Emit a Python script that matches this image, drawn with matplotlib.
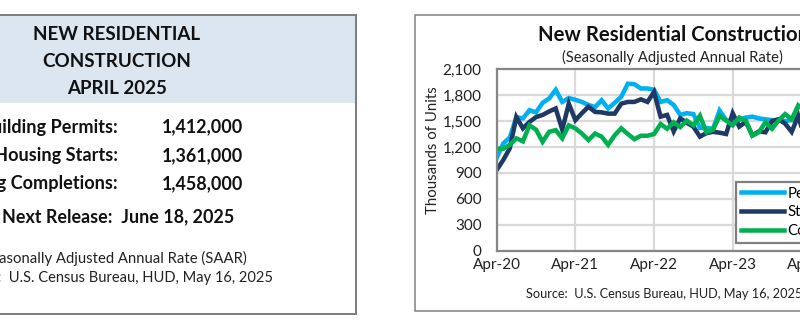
import matplotlib
matplotlib.use("Agg")
import matplotlib.pyplot as plt
from matplotlib.patches import Rectangle

plt.rcParams['font.family'] = ['Lato', 'DejaVu Sans']

# Monthly SAAR, thousands of units, Apr-2020 .. Apr-2025
permits = [1075, 1240, 1310, 1545, 1530, 1625, 1600, 1710, 1760, 1860, 1720, 1765,
           1745, 1720, 1685, 1660, 1740, 1645, 1710, 1780, 1930, 1925, 1875, 1875,
           1860, 1720, 1740, 1685, 1570, 1590, 1580, 1420, 1420, 1410, 1620, 1510,
           1490, 1510, 1540, 1550, 1530, 1520, 1510, 1505, 1500, 1510, 1540, 1490,
           1450, 1400, 1450, 1410, 1470, 1430, 1420, 1490, 1480, 1470, 1460, 1480,
           1412]
starts = [935, 1050, 1185, 1545, 1415, 1490, 1545, 1570, 1610, 1645, 1400, 1700,
          1510, 1590, 1665, 1605, 1600, 1585, 1585, 1700, 1720, 1720, 1750, 1720,
          1835, 1550, 1570, 1380, 1530, 1480, 1435, 1320, 1360, 1375, 1365, 1350,
          1590, 1435, 1490, 1335, 1380, 1370, 1500, 1520, 1470, 1375, 1560, 1300,
          1370, 1320, 1330, 1260, 1380, 1355, 1340, 1290, 1520, 1350, 1490, 1340,
          1361]
completions = [1180, 1180, 1225, 1300, 1265, 1450, 1400, 1260, 1375, 1395, 1300, 1450,
               1415, 1355, 1280, 1355, 1320, 1225, 1335, 1415, 1350, 1290, 1330, 1330,
               1350, 1465, 1410, 1485, 1430, 1505, 1450, 1560, 1370, 1400, 1560, 1505,
               1450, 1540, 1505, 1330, 1370, 1485, 1410, 1505, 1580, 1520, 1680, 1620,
               1620, 1700, 1760, 1690, 1650, 1630, 1570, 1630, 1580, 1650, 1600, 1560,
               1458]

series_names = ["Permits", "Starts", "Completions"]
series_colors = ["#00b0f0", "#1f3864", "#00b050"]
x_tick_labels = ["Apr-20", "Apr-21", "Apr-22", "Apr-23", "Apr-24", "Apr-25"]
y_ticks = list(range(0, 2101, 300))

summary_labels = ["Building Permits:", "Housing Starts:", "Housing Completions:"]
summary_series = [permits, starts, completions]

W, H = 800, 325
fig = plt.figure(figsize=(W / 100, H / 100), dpi=100)


def fx(x):
    return x / W


def fy(y):
    return 1 - y / H


def pt(px):
    return px * 72 / 100


def panel(l, t, r, b, face, edge, lw, z):
    fig.add_artist(Rectangle((fx(l), fy(b)), (r - l) / W, (b - t) / H,
                             transform=fig.transFigure, facecolor=face, edgecolor=edge,
                             linewidth=lw, zorder=z))


# ---------------- summary box ----------------
box_l, box_r, box_t, box_b, head_b = -130, 356, 15, 314, 103
panel(box_l, box_t, box_r, box_b, "white", "none", 0, -3)
panel(box_l, box_t, box_r, head_b, "#dce6f1", "none", 0, -2)
panel(box_l, box_t, box_r, box_b, "none", "#7f7f7f", pt(2), -1)

cx = 117
for txt, base in zip(["NEW RESIDENTIAL", "CONSTRUCTION", "APRIL 2025"], [40, 67, 94]):
    fig.text(fx(cx), fy(base), txt, ha="center", va="baseline", fontsize=13.5,
             fontweight="bold", color="#111111")

for lab, ser, base in zip(summary_labels, summary_series, [132.7, 161, 189.3]):
    fig.text(fx(118), fy(base), lab, ha="right", va="baseline", fontsize=13.1,
             fontweight="bold", color="#111111")
    fig.text(fx(162), fy(base), f"{ser[-1] * 1000:,}", ha="left", va="baseline",
             fontsize=12.9, fontweight="bold", color="#111111")

fig.text(fx(118), fy(222.7), "Next Release:  June 18, 2025", ha="center", va="baseline",
         fontsize=12.9, fontweight="bold", color="#111111")
fig.text(fx(247), fy(263.3), "Seasonally Adjusted Annual Rate (SAAR)", ha="right",
         va="baseline", fontsize=10.7, color="#222222")
fig.text(fx(273), fy(281.7), "Source:  U.S. Census Bureau, HUD, May 16, 2025", ha="right",
         va="baseline", fontsize=10.5, color="#222222")

# ---------------- chart panel ----------------
panel(415, 15, 1000, 311, "white", "#7f7f7f", pt(1.5), -3)

fig.text(fx(538), fy(40.7), "New Residential Construction", ha="left", va="baseline",
         fontsize=14.7, fontweight="bold", color="#111111")
fig.text(fx(562), fy(62.3), "(Seasonally Adjusted Annual Rate)", ha="left", va="baseline",
         fontsize=10.6, color="#222222")
fig.text(fx(433), fy(150), "Thousands of Units", ha="center", va="center", rotation=90,
         fontsize=10.8, color="#222222")
fig.text(fx(526), fy(297.7), "Source:  U.S. Census Bureau, HUD, May 16, 2025", ha="left",
         va="baseline", fontsize=9.2, color="#222222")

ax_l, ax_r, ax_t, ax_b = 496.7, 890, 69, 251
ax = fig.add_axes([fx(ax_l), fy(ax_b), (ax_r - ax_l) / W, (ax_b - ax_t) / H])
ax.set_zorder(2)
ax.set_facecolor("white")

idx = list(range(len(permits)))
for ser, name, col in zip(summary_series, series_names, series_colors):
    ax.plot(idx, ser, color=col, linewidth=pt(4.5), label=name,
            solid_joinstyle="miter", zorder=3)

ax.set_xlim(0, len(permits) - 1)
ax.set_ylim(0, 2100)
ax.set_xticks(range(0, len(permits), 12))
ax.set_xticklabels(x_tick_labels)
ax.set_yticks(y_ticks)
ax.set_yticklabels([f"{v:,}" for v in y_ticks])
ax.grid(True, color="#d9d9d9", linewidth=pt(2.2), zorder=0)
ax.set_axisbelow(True)
for sp in ax.spines.values():
    sp.set_color("#868686")
    sp.set_linewidth(pt(2.2))
    sp.set_zorder(4)
ax.tick_params(axis="both", length=0, labelsize=11, colors="#222222")
ax.tick_params(axis="y", pad=pt(15))
ax.tick_params(axis="x", pad=pt(7))

leg = ax.legend(loc="upper left", bbox_to_anchor=(fx(736), fy(182)),
                bbox_transform=fig.transFigure, fontsize=10.8, frameon=True,
                fancybox=False, borderaxespad=0, borderpad=0.3, handlelength=2.9,
                handletextpad=0.25, labelspacing=0.32)
leg.get_frame().set_edgecolor("#7f7f7f")
leg.get_frame().set_linewidth(pt(2.2))
leg.get_frame().set_alpha(1)

fig.savefig("out.png", dpi=100)
